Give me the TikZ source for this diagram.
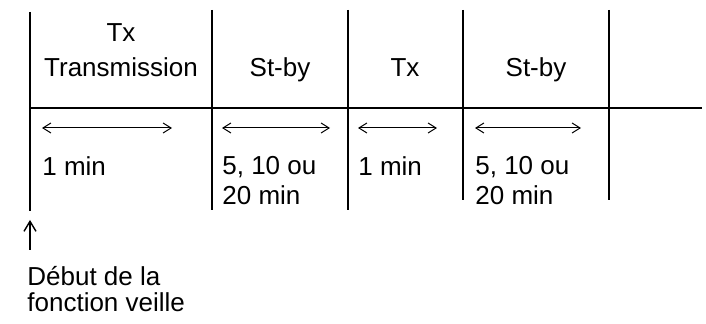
\documentclass[tikz,border=0pt]{standalone}
\usepackage{fontspec}
\setmainfont{Liberation Sans}
\usetikzlibrary{arrows.meta}
\begin{document}
\begin{tikzpicture}[x=0.5pt,y=-0.5pt,
  grid/.style={line width=0.9pt},
  span/.style={line width=0.5pt,{Straight Barb[length=4pt,width=5pt]}-{Straight Barb[length=4pt,width=5pt]}},
  up/.style={line width=0.7pt,-{Straight Barb[length=5pt,width=6pt]}},
  lbl/.style={inner sep=0pt,font=\fontsize{13pt}{15pt}\selectfont},
  head/.style={lbl,anchor=base,align=center},
  dur/.style={lbl,anchor=north west,align=left}]
\useasboundingbox (0,0) rectangle (706,324);
% column boundaries
\coordinate (t0) at (30,12);   \coordinate (b0) at (30,211);
\coordinate (t1) at (212,10);  \coordinate (b1) at (212,210);
\coordinate (t2) at (348,10);  \coordinate (b2) at (348,210);
\coordinate (t3) at (463,10);  \coordinate (b3) at (463,200);
\coordinate (t4) at (609,10);  \coordinate (b4) at (609,200);
\coordinate (axL) at (30,108); \coordinate (axR) at (702,108);
\foreach \i in {0,...,4} \draw[grid] (t\i) -- (b\i);
\draw[grid] (axL) -- (axR);
% phase headings
\node[head] (tx1a) at (121,42) {Tx};
\node[head] (tx1b) at (121,77) {Transmission};
\node[head] (sb1) at (280,77) {St-by};
\node[head] (tx2) at (405,77) {Tx};
\node[head] (sb2) at (536,77) {St-by};
% duration arrows
\coordinate (a1l) at (42,128);  \coordinate (a1r) at (172,128);
\coordinate (a2l) at (222,128); \coordinate (a2r) at (330,128);
\coordinate (a3l) at (358,128); \coordinate (a3r) at (437,128);
\coordinate (a4l) at (475,128); \coordinate (a4r) at (581,128);
\foreach \i in {1,...,4} \draw[span] (a\i l) -- (a\i r);
% durations
\node[dur] (d1) at (42,156) {1 min};
\node[dur] (d2) at (222,156) {5, 10 ou\\20 min};
\node[dur] (d3) at (358,156) {1 min};
\node[dur] (d4) at (475,156) {5, 10 ou\\20 min};
% start marker
\coordinate (st) at (30,250); \coordinate (sh) at (30,220);
\draw[up] (st) -- (sh);
\node[dur,font=\fontsize{13pt}{12.8pt}\selectfont] (start) at (27,266) {Début de la\\fonction veille};
\end{tikzpicture}
\end{document}
